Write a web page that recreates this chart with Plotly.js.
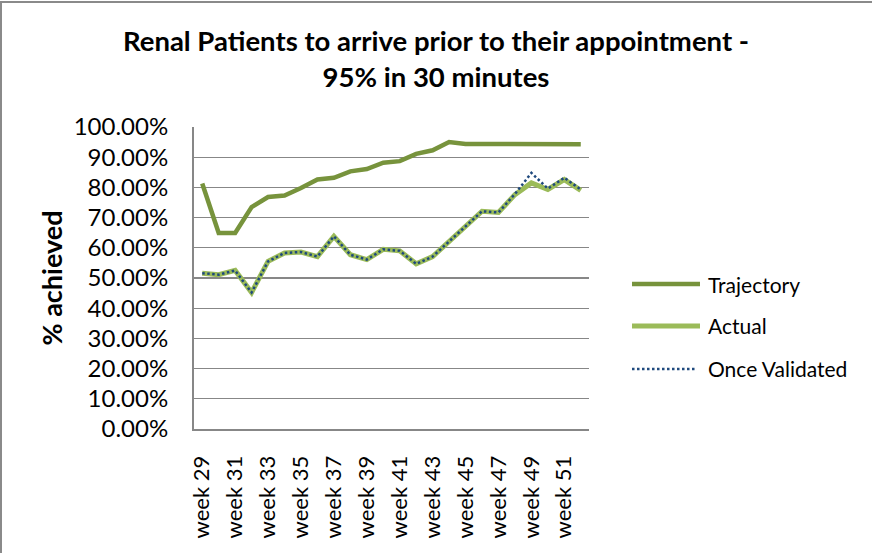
<!DOCTYPE html>
<html>
<head>
<meta charset="utf-8">
<script src="https://cdn.plot.ly/plotly-3.0.1.min.js"></script>
<style>
  html, body { margin: 0; padding: 0; background: #fff; }
  #wrap { position: relative; width: 872px; height: 553px; overflow: hidden; }
  #chart { width: 872px; height: 553px; }
  #frame { position: absolute; left: 0; top: 1px; width: 880px; height: 560px;
           border-top: 2px solid #8a8a8a; border-left: 2px solid #8a8a8a; pointer-events: none; }
</style>
</head>
<body>
<div id="wrap">
  <div id="chart"></div>
  <div id="frame"></div>
</div>
<script>
// ---- data ----
const weeks = ["week 29","week 30","week 31","week 32","week 33","week 34","week 35","week 36",
               "week 37","week 38","week 39","week 40","week 41","week 42","week 43","week 44",
               "week 45","week 46","week 47","week 48","week 49","week 50","week 51","week 52"];
const tickWeeks = ["week 29","week 31","week 33","week 35","week 37","week 39",
                   "week 41","week 43","week 45","week 47","week 49","week 51"];
const trajectory = [0.813,0.649,0.649,0.735,0.768,0.773,0.798,0.826,0.832,0.853,0.861,0.882,
                    0.887,0.911,0.923,0.950,0.944,0.944,0.944,0.944,0.944,0.944,0.944,0.943];
const actual     = [0.516,0.511,0.525,0.452,0.555,0.583,0.586,0.571,0.638,0.577,0.561,0.595,
                    0.590,0.547,0.571,0.621,0.669,0.721,0.717,0.776,0.815,0.793,0.826,0.790];
const validated  = [0.516,0.511,0.525,0.452,0.555,0.583,0.586,0.571,0.638,0.577,0.561,0.595,
                    0.590,0.547,0.571,0.621,0.669,0.721,0.717,0.778,0.848,0.796,0.832,0.793];
const yTicks = [0,0.1,0.2,0.3,0.4,0.5,0.6,0.7,0.8,0.9,1.0];
const seriesNames = ["Trajectory","Actual","Once Validated"];
const seriesColors = ["#77933C","#9BBB59","#1F497D"];

const FONT = "Lato, 'Open Sans', sans-serif";

const lineStyles = [
  { color: seriesColors[0], width: 4.5 },
  { color: seriesColors[1], width: 5 },
  { color: seriesColors[2], width: 2.5, dash: "2.5px,2.5px" }
];
const seriesValues = [trajectory, actual, validated];

const traces = seriesValues.map((vals, i) => ({
  name: seriesNames[i], x: weeks, y: vals, type: "scatter", mode: "lines",
  line: lineStyles[i], showlegend: false
}));

// legend drawn beside the plot (longer key lines than Plotly's built-in legend)
const legendRows = [0.4801, 0.3411, 0.1987];   // paper y of each legend row
const legendX0 = 1.1089, legendX1 = 1.2810, legendTextX = 1.296;
const shapes = legendRows.map((yy, i) => ({
  type: "line", xref: "paper", yref: "paper",
  x0: legendX0, x1: (i === 2 ? 1.270 : legendX1), y0: yy, y1: yy,
  line: lineStyles[i]
}));
const annotations = legendRows.map((yy, i) => ({
  xref: "paper", yref: "paper", x: legendTextX, y: yy, xanchor: "left", yanchor: "middle",
  text: seriesNames[i], showarrow: false,
  font: { family: FONT, size: 21, color: "#000000" }
}));

const layout = {
  width: 872, height: 553,
  margin: { l: 194, r: 283, t: 127, b: 124, pad: 0 },
  paper_bgcolor: "#ffffff", plot_bgcolor: "#ffffff",
  font: { family: FONT, size: 20, color: "#000000" },
  title: { text: "<b>Renal Patients to arrive prior to their appointment -<br>95% in 30 minutes</b>",
           x: 0.5, xref: "container", xanchor: "center", yref: "container", y: 0.908, yanchor: "top",
           font: { family: FONT, size: 27.5, color: "#000000" } },
  showlegend: false,
  shapes: shapes,
  annotations: annotations,
  xaxis: {
    type: "category", categoryorder: "array", categoryarray: weeks,
    tickmode: "array", tickvals: tickWeeks, ticktext: tickWeeks,
    tickangle: -90, ticks: "outside", ticklen: 16, tickcolor: "rgba(0,0,0,0)",
    tickfont: { family: FONT, size: 22, color: "#000000" },
    showgrid: false, zeroline: false,
    showline: true, linecolor: "#878787", linewidth: 2, mirror: false,
    range: [-0.5, 23.5], fixedrange: true
  },
  yaxis: {
    range: [0, 1], tickmode: "array", tickvals: yTicks, tickformat: ".2%",
    ticks: "outside", ticklen: 19, tickcolor: "rgba(0,0,0,0)",
    tickfont: { family: FONT, size: 24, color: "#000000" },
    showgrid: true, gridcolor: "#878787", gridwidth: 1.3,
    zeroline: false, showline: true, linecolor: "#878787", linewidth: 2,
    title: { text: "<b>% achieved</b>", standoff: 3, font: { family: FONT, size: 27, color: "#000000" } },
    fixedrange: true
  }
};

Plotly.newPlot("chart", traces, layout, { displayModeBar: false, staticPlot: true });
</script>
</body>
</html>
